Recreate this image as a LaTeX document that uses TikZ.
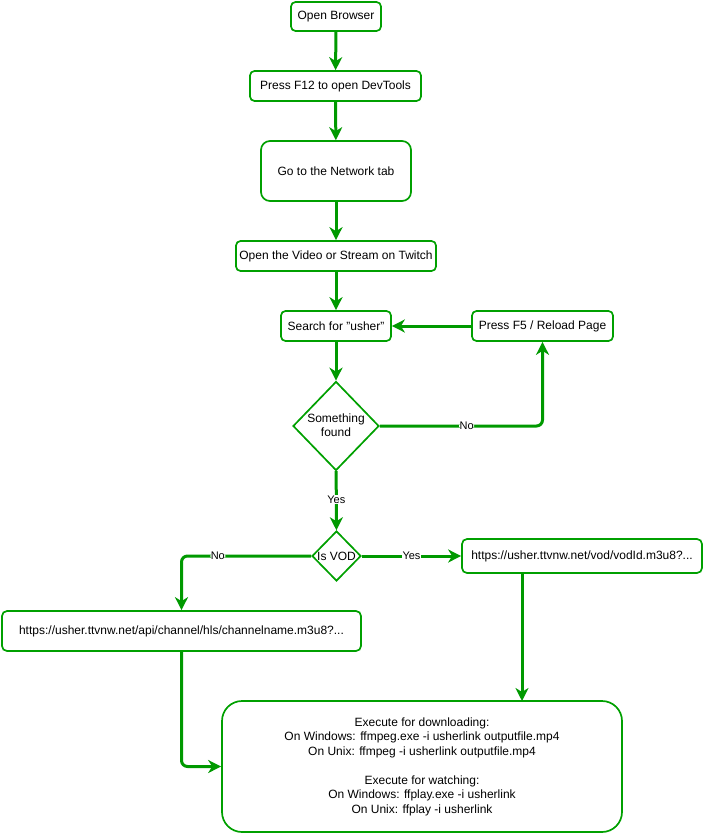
\documentclass[tikz,border=0pt]{standalone}
\usepackage{fontspec}
\setmainfont{Liberation Sans}
\usetikzlibrary{arrows.meta,shapes.geometric,calc}
\definecolor{dgreen}{RGB}{0,153,0}
\definecolor{bgreen}{RGB}{0,160,0}
\tikzset{
  box/.style={draw=bgreen, line width=1.7pt, fill=white, rounded corners=4.5pt, inner sep=0pt,
    font=\fontsize{12}{14.5}\selectfont, align=center},
  dia/.style={draw=bgreen, line width=1.7pt, fill=white, diamond, inner sep=0pt},
  dtext/.style={inner sep=0pt, font=\fontsize{12}{14}\selectfont, align=center},
  arr/.style={draw=dgreen, line width=3pt, -{Stealth[length=13pt,width=13pt,inset=4pt]}},
  lbl/.style={fill=white, inner sep=0.5pt, font=\fontsize{11}{13}\selectfont}
}
\begin{document}
\begin{tikzpicture}[x=1pt,y=-1pt]
\useasboundingbox (0,0) rectangle (703,834);
\node[box, minimum width=90, minimum height=29] (ob) at (336,16.5) {Open Browser};
\node[box, minimum width=171, minimum height=30] (f12) at (335.5,86) {Press F12 to open DevTools};
\node[box, minimum width=150, minimum height=60, rounded corners=9pt] (net) at (336,171) {Go to the Network tab};
\node[box, minimum width=200, minimum height=30] (vid) at (336,256) {Open the Video or Stream on Twitch};
\node[box, minimum width=110, minimum height=30] (srch) at (336,326) {Search for \symbol{34}usher\symbol{34}};
\node[box, minimum width=141, minimum height=30] (f5) at (542.5,326) {Press F5 / Reload Page};
\node[dia, minimum width=86, minimum height=89] (sf) at (336,426) {};
\node[dtext] (sft) at (336,425) {Something\\found};
\node[dia, minimum width=49, minimum height=50] (vod) at (336.5,556) {};
\node[dtext] (vodt) at (336.5,556) {Is VOD};
\node[box, minimum width=240, minimum height=34, rounded corners=5pt] (vl) at (582,556) {https://usher.ttvnw.net/vod/vodId.m3u8?...};
\node[box, minimum width=359, minimum height=40, rounded corners=5pt] (ch) at (181.5,631) {https://usher.ttvnw.net/api/channel/hls/channelname.m3u8?...};
\node[box, minimum width=400, minimum height=131, rounded corners=20pt] (ex) at (422,766.5) {Execute for downloading:\\On Windows: ffmpeg.exe -i usherlink outputfile.mp4\\On Unix: ffmpeg -i usherlink outputfile.mp4\\[14.5pt]Execute for watching:\\On Windows: ffplay.exe -i usherlink\\On Unix: ffplay -i usherlink};
\coordinate (ein) at (522,701);

\draw[arr] (ob) -- (f12);
\draw[arr] (f12) -- (net);
\draw[arr] (net) -- (vid);
\draw[arr] (vid) -- (srch);
\draw[arr] (srch) -- (sf);
\draw[arr] (f5) -- (srch);
\draw[arr, rounded corners=6pt] (sf.east) -| node[lbl, pos=0.267] {No} (f5.south);
\draw[arr] (sf) -- node[lbl, pos=0.48] {Yes} (vod);
\draw[arr] (vod) -- node[lbl, pos=0.5] {Yes} (vl);
\draw[arr, rounded corners=6pt] (vod.west) -| node[lbl, pos=0.36] {No} (ch.north);
\draw[arr] (vl.south -| ein) -- (ein);
\draw[arr, rounded corners=6pt] (ch.south) |- (ex.west);
\end{tikzpicture}
\end{document}
